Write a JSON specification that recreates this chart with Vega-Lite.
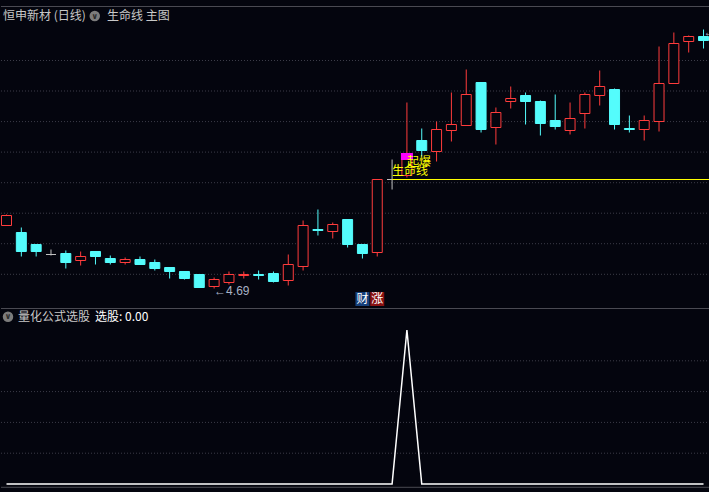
{
  "$schema": "https://vega.github.io/schema/vega-lite/v6.json",
  "background": "#04050e",
  "padding": 0,
  "spacing": 0,
  "config": {"view": {"stroke": null}, "font": "Noto Sans CJK SC", "scale": {"continuousPadding": 0}},
  "datasets": {
    "k": [
      {"i":0,"o":5.32,"c":5.42,"h":5.43,"l":5.32,"d":"up","s":0},
      {"i":1,"o":5.25,"c":5.06,"h":5.30,"l":5.01,"d":"down","s":0},
      {"i":2,"o":5.13,"c":5.06,"h":5.13,"l":5.01,"d":"down","s":0},
      {"i":3,"o":5.03,"c":5.03,"h":5.08,"l":5.02,"d":"flat","s":0},
      {"i":4,"o":5.04,"c":4.95,"h":5.07,"l":4.89,"d":"down","s":0},
      {"i":5,"o":4.97,"c":5.01,"h":5.06,"l":4.92,"d":"up","s":0},
      {"i":6,"o":5.06,"c":5.01,"h":5.06,"l":4.93,"d":"down","s":0},
      {"i":7,"o":4.99,"c":4.95,"h":5.02,"l":4.93,"d":"down","s":0},
      {"i":8,"o":4.95,"c":4.98,"h":5.00,"l":4.93,"d":"up","s":0},
      {"i":9,"o":4.98,"c":4.93,"h":5.01,"l":4.93,"d":"down","s":0},
      {"i":10,"o":4.95,"c":4.89,"h":4.98,"l":4.87,"d":"down","s":0},
      {"i":11,"o":4.90,"c":4.86,"h":4.90,"l":4.79,"d":"down","s":0},
      {"i":12,"o":4.86,"c":4.79,"h":4.86,"l":4.78,"d":"down","s":0},
      {"i":13,"o":4.83,"c":4.70,"h":4.83,"l":4.70,"d":"down","s":0},
      {"i":14,"o":4.71,"c":4.78,"h":4.80,"l":4.69,"d":"up","s":0},
      {"i":15,"o":4.75,"c":4.83,"h":4.86,"l":4.73,"d":"up","s":0},
      {"i":16,"o":4.82,"c":4.83,"h":4.86,"l":4.79,"d":"up","s":0},
      {"i":17,"o":4.83,"c":4.82,"h":4.87,"l":4.78,"d":"down","s":0},
      {"i":18,"o":4.84,"c":4.76,"h":4.86,"l":4.75,"d":"down","s":0},
      {"i":19,"o":4.77,"c":4.93,"h":5.03,"l":4.72,"d":"up","s":0},
      {"i":20,"o":4.91,"c":5.32,"h":5.37,"l":4.87,"d":"up","s":0},
      {"i":21,"o":5.28,"c":5.27,"h":5.48,"l":5.22,"d":"down","s":0},
      {"i":22,"o":5.26,"c":5.33,"h":5.35,"l":5.19,"d":"up","s":0},
      {"i":23,"o":5.38,"c":5.13,"h":5.38,"l":5.10,"d":"down","s":0},
      {"i":24,"o":5.13,"c":5.04,"h":5.13,"l":4.99,"d":"down","s":0},
      {"i":25,"o":5.05,"c":5.78,"h":5.78,"l":5.01,"d":"up","s":0},
      {"i":26,"o":5.78,"c":5.78,"h":5.98,"l":5.68,"d":"flat","s":0},
      {"i":27,"o":5.82,"c":6.04,"h":6.55,"l":5.80,"d":"up","s":1},
      {"i":28,"o":6.17,"c":6.07,"h":6.29,"l":6.01,"d":"down","s":0},
      {"i":29,"o":6.06,"c":6.28,"h":6.36,"l":5.96,"d":"up","s":0},
      {"i":30,"o":6.27,"c":6.33,"h":6.65,"l":6.16,"d":"up","s":0},
      {"i":31,"o":6.32,"c":6.63,"h":6.88,"l":6.32,"d":"up","s":0},
      {"i":32,"o":6.75,"c":6.28,"h":6.75,"l":6.25,"d":"down","s":0},
      {"i":33,"o":6.30,"c":6.45,"h":6.50,"l":6.13,"d":"up","s":0},
      {"i":34,"o":6.56,"c":6.59,"h":6.71,"l":6.49,"d":"up","s":0},
      {"i":35,"o":6.62,"c":6.56,"h":6.65,"l":6.33,"d":"down","s":0},
      {"i":36,"o":6.56,"c":6.34,"h":6.57,"l":6.22,"d":"down","s":0},
      {"i":37,"o":6.37,"c":6.31,"h":6.63,"l":6.28,"d":"down","s":0},
      {"i":38,"o":6.27,"c":6.39,"h":6.55,"l":6.23,"d":"up","s":0},
      {"i":39,"o":6.44,"c":6.63,"h":6.65,"l":6.29,"d":"up","s":0},
      {"i":40,"o":6.62,"c":6.71,"h":6.87,"l":6.52,"d":"up","s":0},
      {"i":41,"o":6.68,"c":6.33,"h":6.69,"l":6.28,"d":"down","s":0},
      {"i":42,"o":6.29,"c":6.28,"h":6.42,"l":6.25,"d":"down","s":0},
      {"i":43,"o":6.28,"c":6.37,"h":6.42,"l":6.17,"d":"up","s":0},
      {"i":44,"o":6.36,"c":6.74,"h":7.11,"l":6.26,"d":"up","s":0},
      {"i":45,"o":6.74,"c":7.14,"h":7.25,"l":6.74,"d":"up","s":0},
      {"i":46,"o":7.16,"c":7.21,"h":7.22,"l":7.05,"d":"up","s":0},
      {"i":47,"o":7.21,"c":7.17,"h":7.28,"l":7.09,"d":"down","s":0}
    ],
    "gridA": [{"g":6.97},{"g":6.665},{"g":6.359},{"g":6.054},{"g":5.748},{"g":5.443},{"g":5.138},{"g":4.832}],
    "gridB": [{"g":0.2},{"g":0.4},{"g":0.6},{"g":0.8}],
    "life": [{"start":26,"end":47.437,"level":5.78}],
    "signal": [{"i":27,"lo":5.975,"hi":6.045}],
    "words": [{"i":26,"p":5.865,"t":"生命线"},{"i":27,"p":5.96,"t":"起爆"}],
    "extremes": [{"i":14,"p":4.69,"t":"←4.69"},{"i":47,"p":7.28,"t":"←7.28"}],
    "badges": [{"i":24,"t":"财","kind":"cai"},{"i":25,"t":"涨","kind":"zhang"}]
  },
  "vconcat": [
    {
      "width": 709,
      "height": 308,
      "layer": [
        {
          "data": {"name": "gridA"},
          "mark": {"type": "rule", "color": "#3c3c48", "strokeDash": [1, 2], "strokeWidth": 1},
          "encoding": {"y": {"field": "g", "type": "quantitative", "scale": {"domain": [4.495, 7.575], "nice": false, "zero": false, "padding": 0}, "axis": null}}
        },
        {
          "data": {"values": [{"edge": 7.51}]},
          "mark": {"type": "rule", "color": "#4a4a52", "strokeWidth": 1},
          "encoding": {"y": {"field": "edge", "type": "quantitative", "scale": {"domain": [4.495, 7.575], "nice": false, "zero": false, "padding": 0}, "axis": null}}
        },
        {
          "data": {"name": "k"},
          "mark": {"type": "rule", "strokeWidth": 1},
          "encoding": {
            "x": {"field": "i", "type": "quantitative", "scale": {"domain": [-0.3709, 47.437], "nice": false, "zero": false, "padding": 0}, "axis": null},
            "y": {"field": "l", "type": "quantitative", "scale": {"domain": [4.495, 7.575], "nice": false, "zero": false, "padding": 0}, "axis": null},
            "y2": {"field": "h"},
            "stroke": {"field": "d", "type": "nominal", "scale": {"domain": ["up", "down", "flat"], "range": ["#ff3c3c", "#54fcfc", "#c0c0c0"]}, "legend": null}
          }
        },
        {
          "data": {"name": "k"},
          "mark": {"type": "bar", "size": 10, "strokeWidth": 1},
          "encoding": {
            "x": {"field": "i", "type": "quantitative", "scale": {"domain": [-0.3709, 47.437], "nice": false, "zero": false, "padding": 0}, "axis": null},
            "y": {"field": "o", "type": "quantitative", "scale": {"domain": [4.495, 7.575], "nice": false, "zero": false, "padding": 0}, "axis": null},
            "y2": {"field": "c"},
            "stroke": {"field": "d", "type": "nominal", "scale": {"domain": ["up", "down", "flat"], "range": ["#ff3c3c", "#54fcfc", "#c0c0c0"]}, "legend": null},
            "fill": {"field": "d", "type": "nominal", "scale": {"domain": ["up", "down", "flat"], "range": ["#04050e", "#54fcfc", "#c0c0c0"]}, "legend": null}
          }
        },
        {
          "data": {"name": "signal"},
          "mark": {"type": "bar", "size": 12, "color": "#ff00ff"},
          "encoding": {
            "x": {"field": "i", "type": "quantitative", "scale": {"domain": [-0.3709, 47.437], "nice": false, "zero": false, "padding": 0}, "axis": null},
            "y": {"field": "lo", "type": "quantitative", "scale": {"domain": [4.495, 7.575], "nice": false, "zero": false, "padding": 0}, "axis": null},
            "y2": {"field": "hi"}
          }
        },
        {
          "data": {"name": "life"},
          "mark": {"type": "rule", "color": "#ffff00", "strokeWidth": 1.2},
          "encoding": {
            "x": {"field": "start", "type": "quantitative", "scale": {"domain": [-0.3709, 47.437], "nice": false, "zero": false, "padding": 0}, "axis": null},
            "x2": {"field": "end"},
            "y": {"field": "level", "type": "quantitative", "scale": {"domain": [4.495, 7.575], "nice": false, "zero": false, "padding": 0}, "axis": null}
          }
        },
        {
          "data": {"name": "words"},
          "mark": {"type": "text", "align": "left", "baseline": "middle", "fontSize": 12, "color": "#ffff00", "font": "Noto Sans CJK SC"},
          "encoding": {
            "x": {"field": "i", "type": "quantitative", "scale": {"domain": [-0.3709, 47.437], "nice": false, "zero": false, "padding": 0}, "axis": null},
            "y": {"field": "p", "type": "quantitative", "scale": {"domain": [4.495, 7.575], "nice": false, "zero": false, "padding": 0}, "axis": null},
            "text": {"field": "t"}
          }
        },
        {
          "data": {"name": "extremes"},
          "mark": {"type": "text", "align": "left", "baseline": "middle", "dy": 2, "fontSize": 12, "color": "#a8b2c4", "font": "Liberation Sans"},
          "encoding": {
            "x": {"field": "i", "type": "quantitative", "scale": {"domain": [-0.3709, 47.437], "nice": false, "zero": false, "padding": 0}, "axis": null},
            "y": {"field": "p", "type": "quantitative", "scale": {"domain": [4.495, 7.575], "nice": false, "zero": false, "padding": 0}, "axis": null},
            "text": {"field": "t"}
          }
        },
        {
          "data": {"name": "badges"},
          "mark": {"type": "point", "shape": "square", "size": 196, "filled": true, "opacity": 1},
          "encoding": {
            "x": {"field": "i", "type": "quantitative", "scale": {"domain": [-0.3709, 47.437], "nice": false, "zero": false, "padding": 0}, "axis": null},
            "y": {"datum": 4.585, "type": "quantitative", "scale": {"domain": [4.495, 7.575], "nice": false, "zero": false, "padding": 0}, "axis": null},
            "color": {"field": "kind", "type": "nominal", "scale": {"domain": ["cai", "zhang"], "range": ["#163f7a", "#8a1212"]}, "legend": null}
          }
        },
        {
          "data": {"name": "badges"},
          "mark": {"type": "text", "align": "center", "baseline": "middle", "fontSize": 12, "color": "#ffffff", "font": "Noto Sans CJK SC"},
          "encoding": {
            "x": {"field": "i", "type": "quantitative", "scale": {"domain": [-0.3709, 47.437], "nice": false, "zero": false, "padding": 0}, "axis": null},
            "y": {"datum": 4.585, "type": "quantitative", "scale": {"domain": [4.495, 7.575], "nice": false, "zero": false, "padding": 0}, "axis": null},
            "text": {"field": "t"}
          }
        },
        {
          "data": {"values": [{}]},
          "mark": {"type": "text", "align": "left", "baseline": "middle", "fontSize": 12, "color": "#c8c8c8", "font": "Noto Sans CJK SC", "text": "恒申新材 (日线)"},
          "encoding": {
            "x": {"datum": -0.236, "type": "quantitative", "scale": {"domain": [-0.3709, 47.437], "nice": false, "zero": false, "padding": 0}, "axis": null},
            "y": {"datum": 7.415, "type": "quantitative", "scale": {"domain": [4.495, 7.575], "nice": false, "zero": false, "padding": 0}, "axis": null}
          }
        },
        {
          "data": {"values": [{}]},
          "mark": {"type": "point", "shape": "circle", "size": 110, "filled": true, "opacity": 1, "color": "#7c7c7c"},
          "encoding": {
            "x": {"datum": 5.95, "type": "quantitative", "scale": {"domain": [-0.3709, 47.437], "nice": false, "zero": false, "padding": 0}, "axis": null},
            "y": {"datum": 7.415, "type": "quantitative", "scale": {"domain": [4.495, 7.575], "nice": false, "zero": false, "padding": 0}, "axis": null}
          }
        },
        {
          "data": {"values": [{}]},
          "mark": {"type": "text", "align": "center", "baseline": "middle", "fontSize": 8, "fontWeight": "bold", "color": "#2a2a2a", "font": "DejaVu Sans", "text": "∨"},
          "encoding": {
            "x": {"datum": 5.95, "type": "quantitative", "scale": {"domain": [-0.3709, 47.437], "nice": false, "zero": false, "padding": 0}, "axis": null},
            "y": {"datum": 7.41, "type": "quantitative", "scale": {"domain": [4.495, 7.575], "nice": false, "zero": false, "padding": 0}, "axis": null}
          }
        },
        {
          "data": {"values": [{}]},
          "mark": {"type": "text", "align": "left", "baseline": "middle", "fontSize": 12, "color": "#c8c8c8", "font": "Noto Sans CJK SC", "text": "生命线 主图"},
          "encoding": {
            "x": {"datum": 6.777, "type": "quantitative", "scale": {"domain": [-0.3709, 47.437], "nice": false, "zero": false, "padding": 0}, "axis": null},
            "y": {"datum": 7.415, "type": "quantitative", "scale": {"domain": [4.495, 7.575], "nice": false, "zero": false, "padding": 0}, "axis": null}
          }
        }
      ]
    },
    {
      "width": 709,
      "height": 184,
      "layer": [
        {
          "data": {"name": "gridB"},
          "mark": {"type": "rule", "color": "#3c3c48", "strokeDash": [1, 2], "strokeWidth": 1},
          "encoding": {"y": {"field": "g", "type": "quantitative", "scale": {"domain": [-0.051948, 1.142857], "nice": false, "zero": false, "padding": 0}, "axis": null}}
        },
        {
          "data": {"values": [{"edge": 1.1396}, {"edge": -0.0214}]},
          "mark": {"type": "rule", "color": "#4a4a52", "strokeWidth": 1},
          "encoding": {"y": {"field": "edge", "type": "quantitative", "scale": {"domain": [-0.051948, 1.142857], "nice": false, "zero": false, "padding": 0}, "axis": null}}
        },
        {
          "data": {"name": "k"},
          "mark": {"type": "line", "color": "#ffffff", "strokeWidth": 1.5},
          "encoding": {
            "x": {"field": "i", "type": "quantitative", "scale": {"domain": [-0.3709, 47.437], "nice": false, "zero": false, "padding": 0}, "axis": null},
            "y": {"field": "s", "type": "quantitative", "scale": {"domain": [-0.051948, 1.142857], "nice": false, "zero": false, "padding": 0}, "axis": null}
          }
        },
        {
          "data": {"values": [{}]},
          "mark": {"type": "point", "shape": "circle", "size": 110, "filled": true, "opacity": 1, "color": "#7c7c7c"},
          "encoding": {
            "x": {"datum": 0.101, "type": "quantitative", "scale": {"domain": [-0.3709, 47.437], "nice": false, "zero": false, "padding": 0}, "axis": null},
            "y": {"datum": 1.0864, "type": "quantitative", "scale": {"domain": [-0.051948, 1.142857], "nice": false, "zero": false, "padding": 0}, "axis": null}
          }
        },
        {
          "data": {"values": [{}]},
          "mark": {"type": "text", "align": "center", "baseline": "middle", "fontSize": 8, "fontWeight": "bold", "color": "#2a2a2a", "font": "DejaVu Sans", "text": "∨"},
          "encoding": {
            "x": {"datum": 0.101, "type": "quantitative", "scale": {"domain": [-0.3709, 47.437], "nice": false, "zero": false, "padding": 0}, "axis": null},
            "y": {"datum": 1.083, "type": "quantitative", "scale": {"domain": [-0.051948, 1.142857], "nice": false, "zero": false, "padding": 0}, "axis": null}
          }
        },
        {
          "data": {"values": [{}]},
          "mark": {"type": "text", "align": "left", "baseline": "middle", "fontSize": 12, "color": "#c8c8c8", "font": "Noto Sans CJK SC", "text": "量化公式选股"},
          "encoding": {
            "x": {"datum": 0.7755, "type": "quantitative", "scale": {"domain": [-0.3709, 47.437], "nice": false, "zero": false, "padding": 0}, "axis": null},
            "y": {"datum": 1.0864, "type": "quantitative", "scale": {"domain": [-0.051948, 1.142857], "nice": false, "zero": false, "padding": 0}, "axis": null}
          }
        },
        {
          "data": {"values": [{}]},
          "mark": {"type": "text", "align": "left", "baseline": "middle", "fontSize": 12, "color": "#ffffff", "font": "Noto Sans CJK SC", "text": "选股: 0.00"},
          "encoding": {
            "x": {"datum": 5.968, "type": "quantitative", "scale": {"domain": [-0.3709, 47.437], "nice": false, "zero": false, "padding": 0}, "axis": null},
            "y": {"datum": 1.0864, "type": "quantitative", "scale": {"domain": [-0.051948, 1.142857], "nice": false, "zero": false, "padding": 0}, "axis": null}
          }
        }
      ]
    }
  ]
}
